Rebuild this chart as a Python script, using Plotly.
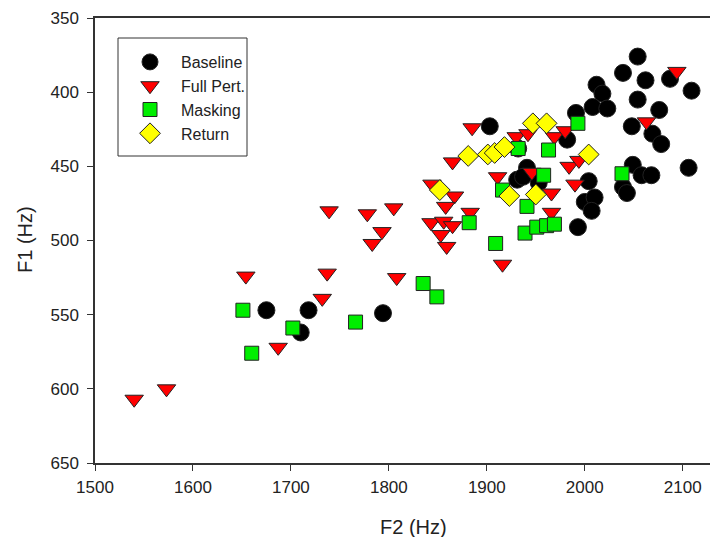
import plotly.graph_objects as go

# Baseline (F2, F1)
baseline_f2 = [1675, 1718, 1710, 1794, 1903, 1931, 1941, 1953, 1932, 1982, 1991, 2054, 2039,
               2062, 2012, 2018, 2087, 2109, 2008, 2023, 2054, 2076, 2048, 2069, 2078, 2004,
               2049, 2058, 2068, 2039, 2043, 2106, 2000, 2010, 2007, 1993, 1937]
baseline_f1 = [547, 547, 562, 549, 423, 459, 451, 461, 438, 432, 414, 376, 387,
               392, 395, 401, 391, 399, 410, 411, 405, 412, 423, 428, 435, 460,
               449, 456, 456, 464, 468, 451, 474, 471, 480, 491, 457]

# Full perturbation
fullpert_f2 = [1540, 1573, 1654, 1687, 1732, 1737, 1808, 1739, 1778, 1805, 1793, 1783, 1844,
               1867, 1858, 1843, 1856, 1865, 1853, 1859, 1885, 1865, 1930, 1942, 1969, 1980,
               1911, 1946, 1966, 1966, 1883, 1916, 1984, 1994, 1990, 2063, 2094]
fullpert_f1 = [607, 600, 524, 572, 539, 522, 525, 480, 482, 478, 494, 502, 462,
               470, 477, 488, 487, 490, 496, 504, 424, 447, 430, 428, 430, 426,
               457, 454, 468, 481, 481, 516, 450, 446, 462, 420, 386]

# Masking
masking_f2 = [1651, 1702, 1660, 1766, 1835, 1849, 1932, 1963, 1958, 1916, 1941, 1882, 1939,
              1951, 1961, 1969, 1909, 1993, 2038]
masking_f1 = [547, 559, 576, 555, 529, 538, 438, 439, 456, 466, 477, 488, 495,
              491, 490, 489, 502, 421, 455]

# Return
return_f2 = [1852, 1881, 1901, 1908, 1918, 1947, 1961, 1923, 1950, 2004]
return_f1 = [466, 443, 442, 441, 437, 421, 421, 470, 469, 442]

x_ticks = [1500, 1600, 1700, 1800, 1900, 2000, 2100]
y_ticks = [350, 400, 450, 500, 550, 600, 650]

FONT = "Liberation Sans, Arial, sans-serif"
TXT = "#222222"
edge = dict(color="#222222", width=1)

# page body margin offsets the figure by 8px
OFF = 8
W, H = 718 - OFF, 537 - OFF
# plot-area geometry in window pixels
L, T, R, B = 95, 18, 718, 463
PW, PH = R - L, B - T


def px(xp):
    return (xp - L) / PW


def py(yp):
    return 1 - (yp - T) / PH


fig = go.Figure()
fig.add_trace(go.Scatter(x=baseline_f2, y=baseline_f1, mode="markers", name="Baseline",
                         marker=dict(symbol="circle", size=17, color="#000000", line=edge)))
fig.add_trace(go.Scatter(x=fullpert_f2, y=fullpert_f1, mode="markers", name="Full Pert.",
                         marker=dict(symbol="triangle-down", size=16, color="#FF0000", line=edge)))
fig.add_trace(go.Scatter(x=masking_f2, y=masking_f1, mode="markers", name="Masking",
                         marker=dict(symbol="square", size=14, color="#00EE00", line=edge)))
fig.add_trace(go.Scatter(x=return_f2, y=return_f1, mode="markers", name="Return",
                         marker=dict(symbol="diamond", size=16, color="#FFFF00", line=edge)))

# legend frame
fig.add_shape(type="rect", xref="paper", yref="paper",
              x0=px(118), x1=px(247), y0=py(156), y1=py(38),
              line=dict(color="#333333", width=1), fillcolor="rgba(0,0,0,0)")

# axis titles
fig.add_annotation(text="F2 (Hz)", xref="paper", yref="paper", x=px(413), y=py(527),
                   showarrow=False, xanchor="center", yanchor="middle",
                   font=dict(family=FONT, size=20, color=TXT))
fig.add_annotation(text="F1 (Hz)", xref="paper", yref="paper", x=px(25), y=py(240),
                   showarrow=False, xanchor="center", yanchor="middle", textangle=-90,
                   font=dict(family=FONT, size=20, color=TXT))

fig.update_layout(
    width=W, height=H,
    margin=dict(l=L - OFF, r=718 - R, t=T - OFF, b=537 - B),
    paper_bgcolor="white", plot_bgcolor="white",
    font=dict(family=FONT, size=17, color=TXT),
    showlegend=True,
    legend=dict(x=px(119), y=py(45), xanchor="left", yanchor="top",
                bgcolor="rgba(0,0,0,0)", borderwidth=0, itemwidth=52,
                font=dict(family=FONT, size=16, color=TXT),
                tracegroupgap=0, itemsizing="trace"),
    xaxis=dict(range=[1500, 2136], tickvals=x_ticks, ticks="outside", ticklen=6,
               tickcolor="#333333", showline=True, linecolor="#333333", linewidth=1.5,
               mirror=True, showgrid=False, zeroline=False, automargin=False,
               ticklabelstandoff=2,
               tickfont=dict(family=FONT, size=17, color=TXT)),
    yaxis=dict(range=[650, 350], tickvals=y_ticks, ticks="outside", ticklen=6,
               tickcolor="#333333", showline=True, linecolor="#333333", linewidth=1.5,
               mirror=False, showgrid=False, zeroline=False, automargin=False,
               ticklabelstandoff=5,
               tickfont=dict(family=FONT, size=17, color=TXT)),
)

fig.write_html("out.html")
